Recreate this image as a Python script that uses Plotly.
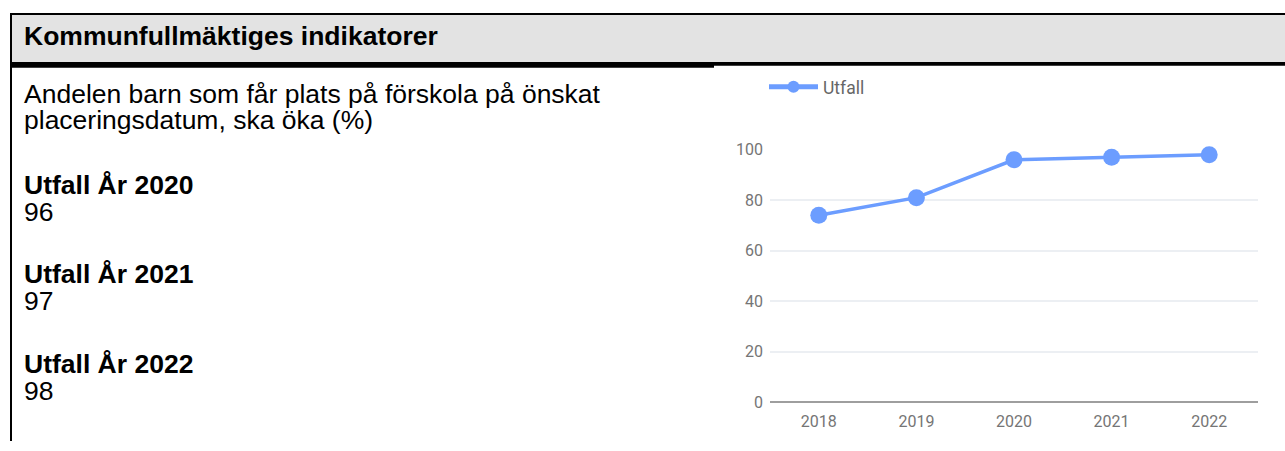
import plotly.graph_objects as go

W, H = 1285, 451

# ---- data ----
years = ["2018", "2019", "2020", "2021", "2022"]
utfall = [74, 81, 96, 97, 98]
series_name = "Utfall"
y_ticks = [0, 20, 40, 60, 80, 100]

header_title = "Kommunfullmäktiges indikatorer"
indicator_lines = ["Andelen barn som får plats på förskola på önskat",
                   "placeringsdatum, ska öka (%)"]
summary_years = ["2020", "2021", "2022"]
summary_values = [96, 97, 98]

# empirical mapping from target pixel row to layout pixel row
V_OFF, V_SCALE = 8.0, 0.96


def px(x):
    return x / W


def ypix(y):
    return (y - V_OFF) / V_SCALE


def py(y):
    return 1 - ypix(y) / H


LINE_COLOR = "#6c9dff"
TXT_FONT = "Liberation Sans, Arial, sans-serif"
CH_FONT = "Roboto, sans-serif"
TXT_SIZE = 26.5

fig = go.Figure()
fig.add_trace(go.Scatter(
    x=years, y=utfall, name=series_name, mode="lines+markers",
    line=dict(color=LINE_COLOR, width=3.5),
    marker=dict(color=LINE_COLOR, size=17),
    cliponaxis=False, hoverinfo="x+y",
))

shapes = [
    dict(type="rect", xref="paper", yref="paper", x0=px(10), x1=px(1285),
         y0=py(61), y1=py(14), fillcolor="#e3e3e3", line=dict(width=0), layer="below"),
    dict(type="rect", xref="paper", yref="paper", x0=px(10), x1=px(1285),
         y0=py(14), y1=py(12), fillcolor="black", line=dict(width=0)),
    dict(type="rect", xref="paper", yref="paper", x0=px(10), x1=px(714),
         y0=py(67), y1=py(61), fillcolor="black", line=dict(width=0)),
    dict(type="rect", xref="paper", yref="paper", x0=px(714), x1=px(1285),
         y0=py(65), y1=py(61), fillcolor="black", line=dict(width=0)),
    dict(type="rect", xref="paper", yref="paper", x0=px(10), x1=px(12),
         y0=0, y1=py(12), fillcolor="black", line=dict(width=0)),
]

ann = []
ann.append(dict(text="<b>" + header_title + "</b>", x=px(22), y=py(35),
                font=dict(family=TXT_FONT, size=TXT_SIZE, color="black")))
line_y = [93, 119]
for t, yy in zip(indicator_lines, line_y):
    ann.append(dict(text=t, x=px(22), y=py(yy),
                    font=dict(family=TXT_FONT, size=TXT_SIZE, color="black")))
head_y = [184, 274, 364]
for yr, v, hy in zip(summary_years, summary_values, head_y):
    ann.append(dict(text="<b>Utfall År " + yr + "</b>", x=px(22), y=py(hy),
                    font=dict(family=TXT_FONT, size=TXT_SIZE, color="black")))
    ann.append(dict(text=str(v), x=px(22), y=py(hy + 27),
                    font=dict(family=TXT_FONT, size=TXT_SIZE, color="black")))
for a in ann:
    a.update(xref="paper", yref="paper", xanchor="left", yanchor="middle",
             showarrow=False)

fig.update_layout(
    width=W, height=H,
    margin=dict(l=0, r=0, t=0, b=0),
    paper_bgcolor="white", plot_bgcolor="white",
    shapes=shapes, annotations=ann,
    showlegend=True,
    legend=dict(orientation="h", x=px(764), y=py(86), xanchor="left", yanchor="middle",
                font=dict(family=CH_FONT, size=17.5, color="#666666"),
                itemsizing="constant", itemwidth=49, bgcolor="rgba(0,0,0,0)"),
    xaxis=dict(domain=[px(770), px(1258)], type="category", range=[-0.5, 4.5],
               showgrid=False, showline=False, ticks="", zeroline=False,
               tickfont=dict(family=CH_FONT, size=16, color="#757575"),
               ticklabelstandoff=8, fixedrange=True),
    yaxis=dict(domain=[py(402), py(149)], range=[0, 100],
               tickvals=y_ticks, showgrid=True, gridcolor="#eceff3", gridwidth=1.5,
               zeroline=True, zerolinecolor="#9e9e9e", zerolinewidth=2,
               showline=False, ticks="",
               tickfont=dict(family=CH_FONT, size=16, color="#757575"),
               ticklabelstandoff=6, fixedrange=True),
)

fig.write_html("out.html", config={"displayModeBar": False},
               post_script="document.body.style.margin='0px';document.body.style.overflow='hidden';")
